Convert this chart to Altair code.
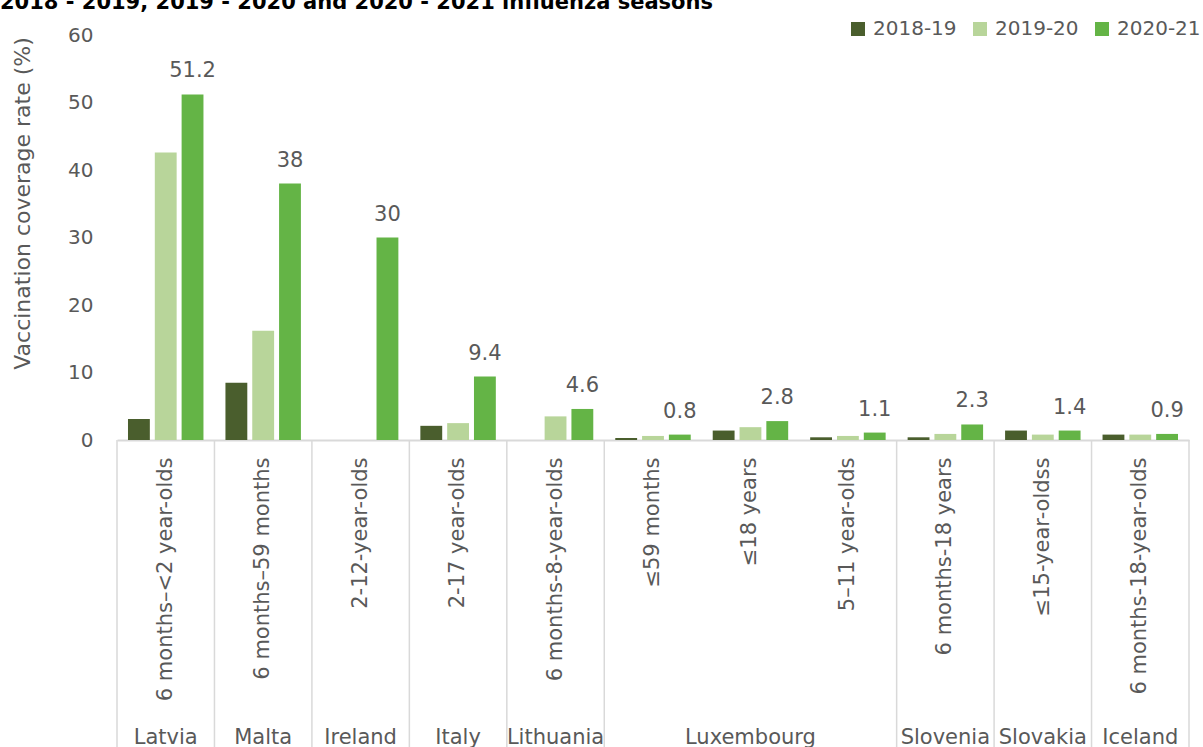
import altair as alt
import pandas as pd

# ---------------- data ----------------
age_groups = ["6 months–<2 year-olds", "6 months–59 months", "2-12-year-olds",
              "2-17 year-olds", "6 months-8-year-olds", "≤59 months", "≤18 years",
              "5–11 year-olds", "6 months-18 years", "≤15-year-oldss",
              "6 months-18-year-olds"]
seasons = ["2018-19", "2019-20", "2020-21"]
v_2018_19 = [3.1, 8.5, None, 2.1, None, 0.3, 1.4, 0.4, 0.4, 1.4, 0.8]
v_2019_20 = [42.6, 16.2, None, 2.5, 3.5, 0.6, 1.9, 0.6, 0.9, 0.8, 0.8]
v_2020_21 = [51.2, 38, 30, 9.4, 4.6, 0.8, 2.8, 1.1, 2.3, 1.4, 0.9]
labels_2020_21 = ["51.2", "38", "30", "9.4", "4.6", "0.8", "2.8", "1.1", "2.3", "1.4", "0.9"]

country_names = ["Latvia", "Malta", "Ireland", "Italy", "Lithuania", "Luxembourg",
                 "Slovenia", "Slovakia", "Iceland"]
country_center = ["6 months–<2 year-olds", "6 months–59 months", "2-12-year-olds",
                  "2-17 year-olds", "6 months-8-year-olds", "≤18 years",
                  "6 months-18 years", "≤15-year-oldss", "6 months-18-year-olds"]
country_start = ["6 months–<2 year-olds", "6 months–59 months", "2-12-year-olds",
                 "2-17 year-olds", "6 months-8-year-olds", "≤59 months",
                 "6 months-18 years", "≤15-year-oldss", "6 months-18-year-olds"]
last_group = ["6 months-18-year-olds"]

title_text = "2018 - 2019, 2019 - 2020 and 2020 - 2021 influenza seasons"
colors = ["#4a5e2d", "#b8d59a", "#64b446"]

# ---------------- tables ----------------
rows = []
for i, a in enumerate(age_groups):
    for s, vals in zip(seasons, [v_2018_19, v_2019_20, v_2020_21]):
        if vals[i] is not None:
            rows.append({"age": a, "season": s, "value": vals[i],
                         "label": labels_2020_21[i] if s == "2020-21" else ""})
df = pd.DataFrame(rows)
df_lab = df[df["season"] == "2020-21"]
df_countries = pd.DataFrame({"age": country_center, "country": country_names})
df_starts = pd.DataFrame({"age": country_start})
df_end = pd.DataFrame({"age": last_group})
df_title = pd.DataFrame({"t": [title_text]})

FONT = "DejaVu Sans"
GREY = "#595959"
LINE = "#d9d9d9"

xscale = alt.Scale(domain=age_groups, paddingInner=0, paddingOuter=0)
xaxis = alt.Axis(title=None, labelAngle=270, labelFontSize=21, labelColor=GREY,
                 labelFont=FONT, labelLimit=400, labelPadding=17, ticks=False,
                 tickSize=0, domainColor=LINE, domainWidth=2, grid=False)
offscale = alt.Scale(domain=seasons, paddingInner=0.185, paddingOuter=0.41)
yscale = alt.Scale(domain=[0, 60])
yaxis = alt.Axis(title="Vaccination coverage rate (%)", values=list(range(0, 61, 10)),
                 labelFontSize=20, labelColor=GREY, labelFont=FONT, labelPadding=24,
                 ticks=False, domain=False, grid=False, titleFontSize=22,
                 titleFont=FONT, titleColor=GREY, titleFontWeight="normal",
                 titlePadding=33, titleY=168)

bars = alt.Chart(df).mark_bar().encode(
    x=alt.X("age:N", scale=xscale, axis=xaxis, sort=age_groups),
    xOffset=alt.XOffset("season:N", scale=offscale, sort=seasons),
    y=alt.Y("value:Q", scale=yscale, axis=yaxis),
    color=alt.Color("season:N", scale=alt.Scale(domain=seasons, range=colors),
                    legend=alt.Legend(orient="none", legendX=731, legendY=-16,
                                      direction="horizontal", title=None,
                                      symbolType="square", symbolSize=196,
                                      symbolStrokeWidth=0, labelFontSize=20,
                                      labelFont=FONT, labelColor=GREY,
                                      columnPadding=13, labelOffset=5)),
)

vlabels = alt.Chart(df_lab).mark_text(
    baseline="alphabetic", dy=-17, fontSize=21, font=FONT, color=GREY
).encode(
    x=alt.X("age:N", scale=xscale, axis=xaxis, sort=age_groups),
    xOffset=alt.XOffset("season:N", scale=offscale, sort=seasons),
    y=alt.Y("value:Q", scale=yscale, axis=yaxis),
    text="label:N",
)

seps = alt.Chart(df_starts).mark_rule(color=LINE, strokeWidth=1.5).encode(
    x=alt.X("age:N", scale=xscale, axis=xaxis, sort=age_groups, bandPosition=0),
    y=alt.value(405), y2=alt.value(712),
)
sep_end = alt.Chart(df_end).mark_rule(color=LINE, strokeWidth=1.5).encode(
    x=alt.X("age:N", scale=xscale, axis=xaxis, sort=age_groups, bandPosition=1),
    y=alt.value(405), y2=alt.value(712),
)

ctext = alt.Chart(df_countries).mark_text(
    baseline="alphabetic", fontSize=21, font=FONT, color=GREY
).encode(
    x=alt.X("age:N", scale=xscale, axis=xaxis, sort=age_groups),
    y=alt.value(709),
    text="country:N",
)

ttext = alt.Chart(df_title).mark_text(
    baseline="alphabetic", align="left", fontSize=21, font=FONT,
    fontWeight="bold", color="#000000"
).encode(x=alt.value(-117), y=alt.value(-26), text="t:N")

chart = alt.layer(seps, sep_end, bars, vlabels, ctext, ttext).properties(
    width=1072, height=405,
    padding={"left": 117, "top": 35, "right": 14, "bottom": 307},
    autosize=alt.AutoSizeParams(type="none"),
).configure_view(stroke=None)

chart.save("out.html", embed_options={"renderer": "svg", "actions": False})
